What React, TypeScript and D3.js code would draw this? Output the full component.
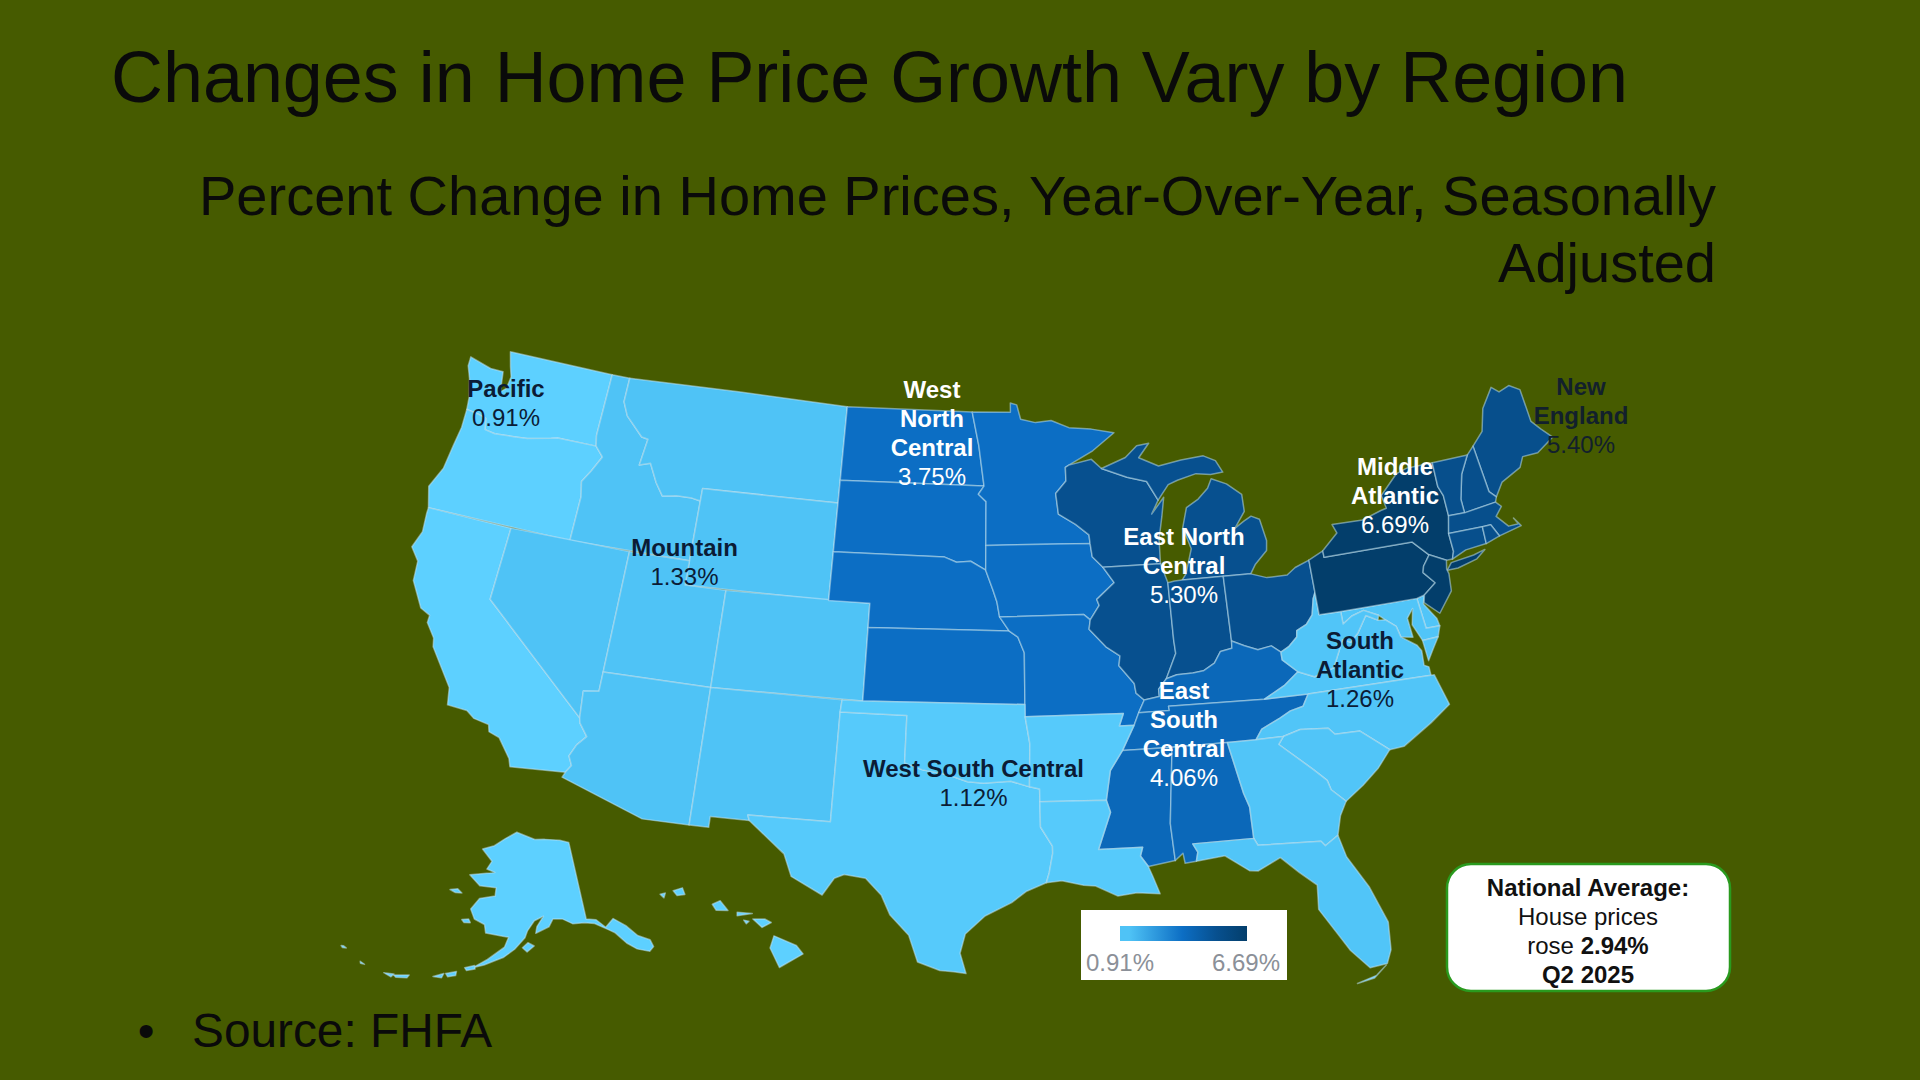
import React from "react";
import * as d3 from "d3";

type Ring = number[][];

const regionNames = ["Pacific", "Mountain", "West North Central", "East North Central", "East South Central", "West South Central", "South Atlantic", "Middle Atlantic", "New England"];
const regionValues = [0.91, 1.33, 3.75, 5.3, 4.06, 1.12, 1.26, 6.69, 5.4];
const regionLabelLines = [["Pacific"], ["Mountain"], ["West", "North", "Central"], ["East North", "Central"], ["East", "South", "Central"], ["West South Central"], ["South", "Atlantic"], ["Middle", "Atlantic"], ["New", "England"]];

const colorStops = [0.91, 1.33, 3.75, 5.3, 6.69];
const colorRange = ["#5dd0ff", "#4fc3f6", "#0c6ec4", "#07508f", "#033e6b"];

// state outlines, lon/lat
const WA: Ring = [[-124.73,48.38],[-123.5,48.13],[-122.8,48.13],[-122.6,47.3],[-122.35,47.5],[-122.3,48.0],[-122.5,48.4],[-122.76,49],[-117.03,49],[-117.04,46.42],[-116.92,45.99],[-118.98,46],[-119.3,45.93],[-120.5,45.7],[-121.2,45.65],[-122.2,45.58],[-122.75,45.65],[-122.9,46.1],[-123.4,46.2],[-124,46.26],[-124.1,46.8],[-124.4,47.5],[-124.7,48]];
const OR: Ring = [[-124,46.26],[-123.4,46.2],[-122.9,46.1],[-122.75,45.65],[-122.2,45.58],[-121.2,45.65],[-120.5,45.7],[-119.3,45.93],[-118.98,46],[-116.92,45.99],[-116.46,45.6],[-116.85,44.95],[-117.2,44.45],[-117.03,43.85],[-117.03,42],[-124.21,42],[-124.55,42.84],[-124.15,43.7],[-124.05,44.7],[-123.95,45.5]];
const CA: Ring = [[-124.21,42],[-120,42],[-120,39],[-114.63,35],[-114.57,34.8],[-114.14,34.3],[-114.5,33.9],[-114.72,33.4],[-114.52,33.03],[-114.72,32.72],[-117.12,32.53],[-117.25,32.85],[-117.9,33.6],[-118.4,33.75],[-118.5,34.03],[-119.2,34.15],[-119.6,34.4],[-120.5,34.45],[-120.65,35.15],[-121.9,36.6],[-122,36.95],[-122.5,37.5],[-122.5,37.8],[-123,38],[-123.75,39],[-123.85,39.8],[-124.35,40.3],[-124.1,41],[-124.2,41.75]];
const NV: Ring = [[-120,42],[-114.04,42],[-114.04,36.2],[-114.74,36.1],[-114.63,35],[-120,39]];
const ID: Ring = [[-117.03,49],[-116.05,49],[-116.05,48],[-115.7,47.45],[-114.7,46.7],[-114.35,46.65],[-114.5,45.55],[-113.95,45.7],[-113.45,44.95],[-113,44.45],[-112.3,44.55],[-111.5,44.55],[-111.05,44.48],[-111.05,42],[-117.03,42],[-117.03,43.85],[-117.2,44.45],[-116.85,44.95],[-116.46,45.6],[-116.92,45.99],[-117.04,46.42]];
const MT: Ring = [[-116.05,49],[-104.05,49],[-104.05,45],[-111.05,45],[-111.05,44.48],[-111.5,44.55],[-112.3,44.55],[-113,44.45],[-113.45,44.95],[-113.95,45.7],[-114.5,45.55],[-114.35,46.65],[-114.7,46.7],[-115.7,47.45],[-116.05,48]];
const WY: Ring = [[-111.05,45],[-104.05,45],[-104.05,41],[-111.05,41]];
const UT: Ring = [[-114.04,42],[-111.05,42],[-111.05,41],[-109.05,41],[-109.05,37],[-114.04,37]];
const CO: Ring = [[-109.05,41],[-102.05,41],[-102.05,37],[-109.05,37]];
const AZ: Ring = [[-114.04,37],[-109.05,37],[-109.05,31.33],[-111.07,31.33],[-114.81,32.5],[-114.72,32.72],[-114.52,33.03],[-114.72,33.4],[-114.5,33.9],[-114.14,34.3],[-114.57,34.8],[-114.63,35],[-114.74,36.1],[-114.04,36.2]];
const NM: Ring = [[-109.05,37],[-103,37],[-103.04,36.5],[-103.06,32],[-106.62,32],[-106.53,31.78],[-108.21,31.78],[-108.21,31.33],[-109.05,31.33]];
const TX: Ring = [[-106.62,32],[-103.06,32],[-103.04,36.5],[-100,36.5],[-100,34.56],[-99.2,34.3],[-98.1,34.13],[-97.2,33.85],[-96.5,33.8],[-95.3,33.88],[-94.48,33.64],[-94.04,33.55],[-94.04,33.02],[-94.04,31.99],[-93.55,31.2],[-93.55,30.9],[-93.72,30.1],[-93.85,29.7],[-94.7,29.35],[-95.3,28.9],[-96.4,28.35],[-97.2,27.6],[-97.4,26.8],[-97.15,25.96],[-97.65,26.03],[-98.2,26.07],[-99.1,26.4],[-99.5,27.5],[-100.3,28.3],[-100.7,29.1],[-101.4,29.77],[-102.3,29.88],[-102.7,29.7],[-103.15,28.98],[-104.5,29.65],[-104.9,30.55],[-106.53,31.78]];
const OK: Ring = [[-103,37],[-102.05,37],[-94.62,37],[-94.62,36.5],[-94.43,35.4],[-94.48,33.64],[-95.3,33.88],[-96.5,33.8],[-97.2,33.85],[-98.1,34.13],[-99.2,34.3],[-100,34.56],[-100,36.5],[-103.04,36.5]];
const KS: Ring = [[-102.05,40],[-95.31,40],[-94.9,39.75],[-94.61,39.11],[-94.62,37],[-102.05,37]];
const NE: Ring = [[-104.05,43],[-98.5,43],[-97.9,42.8],[-97.2,42.85],[-96.45,42.49],[-96.1,41.7],[-95.9,41.2],[-95.77,40.58],[-95.31,40],[-102.05,40],[-102.05,41],[-104.05,41]];
const SD: Ring = [[-104.05,45.94],[-96.56,45.94],[-96.85,45.6],[-96.45,45.3],[-96.45,43.5],[-96.45,42.49],[-97.2,42.85],[-97.9,42.8],[-98.5,43],[-104.05,43]];
const ND: Ring = [[-104.05,49],[-97.23,49],[-96.85,47.6],[-96.56,45.94],[-104.05,45.94]];
const MN: Ring = [[-97.23,49],[-95.15,49],[-95.15,49.38],[-94.8,49.3],[-94.6,48.7],[-93.8,48.55],[-92.95,48.62],[-92,48.3],[-90.8,48.2],[-89.6,48],[-90.8,47.3],[-92.1,46.75],[-92.29,46.66],[-92.29,46.1],[-92.85,45.6],[-92.75,44.75],[-91.9,44.3],[-91.25,43.85],[-91.22,43.5],[-96.45,43.5],[-96.45,45.3],[-96.85,45.6],[-96.56,45.94],[-96.85,47.6]];
const IA: Ring = [[-96.45,43.5],[-91.22,43.5],[-91.15,42.95],[-90.65,42.5],[-90.15,41.85],[-91.05,41.2],[-90.95,40.95],[-91.42,40.38],[-91.73,40.61],[-95.77,40.58],[-95.9,41.2],[-96.1,41.7],[-96.45,42.49]];
const MO: Ring = [[-95.77,40.58],[-91.73,40.61],[-91.42,40.38],[-91.5,40],[-90.75,39.25],[-90.12,38.85],[-90.2,38.45],[-89.55,37.7],[-89.5,37.3],[-89.15,37],[-89.45,36.5],[-89.7,36],[-90.37,36],[-90.15,36.5],[-94.62,36.5],[-94.62,37],[-94.61,39.11],[-94.9,39.75],[-95.31,40]];
const AR: Ring = [[-94.62,36.5],[-90.15,36.5],[-90.37,36],[-89.7,36],[-90.3,35],[-90.9,34.2],[-91.15,33],[-94.04,33.02],[-94.04,33.55],[-94.48,33.64],[-94.43,35.4]];
const LA: Ring = [[-94.04,33.02],[-91.15,33],[-91,32.5],[-91.6,31],[-89.73,31],[-89.85,30.65],[-89.55,30.2],[-89.4,29.8],[-89.15,29.05],[-90.1,29.15],[-90.9,29.05],[-91.8,29.5],[-92.3,29.55],[-93.2,29.77],[-93.85,29.7],[-93.72,30.1],[-93.55,30.9],[-93.55,31.2],[-94.04,31.99]];
const MS: Ring = [[-91.15,33],[-90.9,34.2],[-90.3,35],[-88.2,35],[-88.1,34.9],[-88.47,31.9],[-88.4,30.37],[-89.55,30.2],[-89.85,30.65],[-89.73,31],[-91.6,31],[-91,32.5]];
const AL: Ring = [[-88.2,35],[-85.61,35],[-85.18,32.87],[-85,32.3],[-85,31],[-87.6,31],[-87.42,30.65],[-87.52,30.28],[-88,30.23],[-88.05,30.65],[-88.4,30.37],[-88.47,31.9],[-88.1,34.9]];
const TN: Ring = [[-90.3,35],[-89.7,36],[-89.45,36.5],[-88.05,36.5],[-88.07,36.68],[-83.68,36.6],[-81.68,36.59],[-82,36.12],[-82.6,36],[-83.1,35.77],[-84,35.4],[-84.32,35],[-85.61,35],[-88.2,35]];
const KY: Ring = [[-89.15,37],[-88.45,37.1],[-88.45,37.4],[-88.05,37.8],[-87.55,37.93],[-86.8,37.95],[-86.3,38],[-85.75,38.27],[-85.4,38.72],[-84.85,38.8],[-84.82,39.1],[-84.25,38.85],[-83.65,38.63],[-83,38.72],[-82.6,38.42],[-82.6,38.1],[-81.97,37.54],[-82.7,37.05],[-83.68,36.6],[-88.07,36.68],[-88.05,36.5],[-89.45,36.5]];
const IL: Ring = [[-90.65,42.5],[-87.8,42.5],[-87.53,41.7],[-87.53,39.35],[-87.5,38.8],[-88.05,37.8],[-88.45,37.4],[-88.45,37.1],[-89.15,37],[-89.5,37.3],[-89.55,37.7],[-90.2,38.45],[-90.12,38.85],[-90.75,39.25],[-91.5,40],[-91.42,40.38],[-90.95,40.95],[-91.05,41.2],[-90.15,41.85]];
const IN: Ring = [[-87.53,41.7],[-87.2,41.75],[-86.82,41.76],[-84.8,41.76],[-84.82,39.1],[-84.85,38.8],[-85.4,38.72],[-85.75,38.27],[-86.3,38],[-86.8,37.95],[-87.55,37.93],[-88.05,37.8],[-87.5,38.8],[-87.53,39.35]];
const OH: Ring = [[-84.8,41.76],[-83.45,41.73],[-82.7,41.5],[-81.7,41.5],[-81.25,41.76],[-80.52,41.98],[-80.52,40.64],[-80.66,40.4],[-80.85,39.75],[-81.2,39.4],[-81.7,39.2],[-81.75,38.95],[-82.2,38.6],[-82.6,38.42],[-83,38.72],[-83.65,38.63],[-84.25,38.85],[-84.82,39.1]];
const MI_LOWER: Ring = [[-86.82,41.76],[-84.8,41.76],[-83.45,41.73],[-83.15,42.1],[-82.5,42.6],[-82.42,43],[-82.6,43.9],[-83,44.07],[-83.4,43.9],[-83.9,43.65],[-83.3,44.3],[-83.3,45],[-84,45.5],[-84.75,45.78],[-85,45.4],[-85.55,45],[-86.2,44.7],[-86.5,43.9],[-86.2,43],[-86.6,42]];
const MI_UPPER: Ring = [[-90.4,46.55],[-89.1,46.95],[-88.45,47.4],[-87.8,47.47],[-88.4,46.9],[-87.4,46.5],[-86.2,46.67],[-85,46.75],[-84.4,46.5],[-84.1,46],[-84.75,45.95],[-85.5,46.05],[-86.5,45.85],[-87,45.7],[-87.6,45.1],[-88.1,45.9],[-89.1,46.13]];
const WI: Ring = [[-92.29,46.66],[-92.1,46.75],[-90.9,46.95],[-90.4,46.55],[-89.1,46.13],[-88.1,45.9],[-87.6,45.1],[-88,44.55],[-87.3,45.2],[-87.5,44.4],[-87.75,43.5],[-87.8,42.5],[-90.65,42.5],[-91.15,42.95],[-91.22,43.5],[-91.25,43.85],[-91.9,44.3],[-92.75,44.75],[-92.85,45.6],[-92.29,46.1]];
const PA: Ring = [[-80.52,41.98],[-79.76,42.27],[-79.76,42],[-75.35,42],[-74.7,41.36],[-75.1,40.95],[-75.2,40.7],[-74.75,40.2],[-75.4,39.8],[-75.79,39.72],[-79.48,39.72],[-80.52,39.72],[-80.52,40.64]];
const NY: Ring = [[-79.76,42.27],[-78.9,42.9],[-79.05,43.27],[-77.5,43.25],[-76.5,43.5],[-76.2,43.55],[-76.3,44.1],[-75.3,44.85],[-74.7,45],[-73.35,45],[-73.4,44],[-73.25,43.6],[-73.27,42.75],[-73.5,42.05],[-73.5,41.3],[-73.65,41],[-73.95,41],[-74.7,41.36],[-75.35,42],[-79.76,42]];
const LONG_ISLAND: Ring = [[-74.03,40.6],[-73.75,40.87],[-72.6,40.98],[-72,41.1],[-72.5,40.8],[-73.5,40.6]];
const NJ: Ring = [[-74.7,41.36],[-73.95,41],[-74.05,40.65],[-74,40.45],[-74.1,39.75],[-74.9,38.95],[-75.5,39.5],[-75.4,39.8],[-74.75,40.2],[-75.2,40.7],[-75.1,40.95]];
const DE: Ring = [[-75.79,39.72],[-75.4,39.8],[-75.55,39.45],[-75.1,38.78],[-75.05,38.45],[-75.7,38.46]];
const MD: Ring = [[-79.48,39.72],[-75.79,39.72],[-75.7,38.46],[-75.05,38.45],[-75.25,38.03],[-76,38],[-76.3,38.7],[-76.1,39.35],[-76.45,39],[-76.4,38.2],[-76.95,38.3],[-77.05,38.75],[-77.5,39.1],[-77.75,39.32],[-78.4,39.62],[-79,39.47],[-79.48,39.2]];
const VA: Ring = [[-83.68,36.6],[-81.68,36.59],[-76,36.55],[-76,36.9],[-76.2,37],[-76.15,37.6],[-76.3,37.85],[-76.95,38.3],[-77.05,38.75],[-77.5,39.1],[-77.83,39.13],[-78.35,39.4],[-78.87,38.76],[-79.3,38.42],[-79.65,38.58],[-80.3,37.5],[-81.25,37.25],[-81.97,37.54],[-82.7,37.05]];
const VA_SHORE: Ring = [[-75.25,38.03],[-76,38],[-75.95,37.15],[-75.6,37.6]];
const WV: Ring = [[-80.52,40.64],[-80.52,39.72],[-79.48,39.72],[-79.48,39.2],[-79,39.47],[-78.4,39.62],[-77.75,39.32],[-77.83,39.13],[-78.35,39.4],[-78.87,38.76],[-79.3,38.42],[-79.65,38.58],[-80.3,37.5],[-81.25,37.25],[-81.97,37.54],[-82.6,38.1],[-82.6,38.42],[-82.2,38.6],[-81.75,38.95],[-81.7,39.2],[-81.2,39.4],[-80.85,39.75],[-80.66,40.4]];
const NC: Ring = [[-84.32,35],[-84,35.4],[-83.1,35.77],[-82.6,36],[-82,36.12],[-81.68,36.59],[-76,36.55],[-75.85,36.55],[-75.5,35.25],[-76.5,34.65],[-77.9,33.9],[-78.55,33.86],[-79.68,34.8],[-80.8,34.82],[-81.05,35.1],[-82.3,35.2],[-83.1,35]];
const SC: Ring = [[-83.1,35],[-82.3,35.2],[-81.05,35.1],[-80.8,34.82],[-79.68,34.8],[-78.55,33.86],[-79.2,33.2],[-80,32.6],[-80.85,32.05],[-81.4,32.6],[-81.5,33],[-82,33.5],[-83.35,34.7]];
const GA: Ring = [[-85.61,35],[-84.32,35],[-83.1,35],[-83.35,34.7],[-82,33.5],[-81.5,33],[-81.4,32.6],[-80.85,32.05],[-81.2,31.5],[-81.45,30.72],[-82.05,30.36],[-82.2,30.57],[-84.86,30.7],[-85,31],[-85,32.3],[-85.18,32.87]];
const FL: Ring = [[-87.6,31],[-85,31],[-84.86,30.7],[-82.2,30.57],[-82.05,30.36],[-81.45,30.72],[-81.25,29.8],[-80.55,28.45],[-80.05,26.9],[-80.15,25.75],[-80.4,25.2],[-81.1,25.13],[-81.75,25.95],[-82.15,26.7],[-82.75,27.8],[-82.65,28.8],[-83.3,29.4],[-84,30.1],[-85,29.65],[-85.35,29.7],[-86.3,30.4],[-87.52,30.28],[-87.42,30.65]];
const FL_KEYS: Ring = [[-80.45,25.15],[-80.9,24.78],[-81.7,24.55],[-81,24.68]];
const ME: Ring = [[-71.08,45.3],[-70.4,45.8],[-70,46.7],[-69.23,47.46],[-68.9,47.2],[-68.3,47.35],[-67.8,47.07],[-67.8,45.7],[-67.45,45.3],[-67,44.85],[-68,44.4],[-68.8,44.4],[-69.1,44],[-70.2,43.6],[-70.7,43.07],[-70.98,43.35]];
const NH: Ring = [[-71.08,45.3],[-70.98,43.35],[-70.7,43.07],[-70.82,42.87],[-72.46,42.73],[-72.45,43.3],[-72.05,44.3],[-71.5,45]];
const VT: Ring = [[-73.35,45],[-71.5,45],[-72.05,44.3],[-72.45,43.3],[-72.46,42.73],[-73.27,42.75],[-73.25,43.6],[-73.4,44]];
const MA: Ring = [[-73.5,42.05],[-73.27,42.75],[-72.46,42.73],[-70.82,42.87],[-70.6,42.65],[-71,42.3],[-70.55,41.8],[-70.05,41.8],[-70.2,42.07],[-69.95,41.7],[-71.12,41.5],[-71.38,42.02],[-71.8,42.02]];
const CT: Ring = [[-73.5,42.05],[-71.8,42.02],[-71.85,41.32],[-72.9,41.25],[-73.65,41],[-73.5,41.3]];
const RI: Ring = [[-71.8,42.02],[-71.38,42.02],[-71.12,41.5],[-71.85,41.32]];
const AK: Ring = [[-141,69.65],[-143.5,70.1],[-148,70.4],[-151,70.45],[-156.6,71.35],[-160,70.5],[-163,69.5],[-166.2,68.9],[-163,67.6],[-164,66.6],[-161.8,66.3],[-168,65.6],[-165,64.5],[-161,64.5],[-161,63.5],[-164.5,63],[-166,61.6],[-164.8,60.5],[-162.5,60],[-162,59],[-158.5,58.8],[-157.3,58.7],[-158,57.5],[-161,55.9],[-163.5,54.7],[-161.5,55.2],[-158,56.3],[-156,57.3],[-154,58.7],[-153.5,59.5],[-152,60.7],[-150,61.2],[-151.5,60],[-151.8,59.2],[-149,59.9],[-148,60.8],[-146,60.7],[-144,60],[-141.5,59.9],[-139.5,59.6],[-137,58.5],[-136,58],[-134.5,56.5],[-133,55.5],[-131,54.8],[-130,55.2],[-130.1,56.1],[-132,57],[-133.5,58.5],[-135.5,59.7],[-137.5,58.9],[-139,60],[-141,60.3]];
const AK_KODIAK: Ring = [[-154.5,57.5],[-153.4,58.1],[-152.2,57.7],[-153.6,57]];
const AK_NUNIVAK: Ring = [[-167.4,60.2],[-166,60.4],[-165.5,60],[-166.8,59.9]];
const AK_LAWRENCE: Ring = [[-171.7,63.4],[-170,63.7],[-168.8,63.3],[-170.3,63.2]];
const AK_UNIMAK: Ring = [[-164.9,54.6],[-163.2,55],[-163,54.6],[-164.5,54.3]];
const AK_UNALASKA: Ring = [[-168,53.55],[-166.2,54],[-166.2,53.5],[-167.5,53.2]];
const AK_UMNAK: Ring = [[-170,52.9],[-168.3,53.5],[-168.5,52.95]];
const AK_ATKA: Ring = [[-176.5,51.9],[-174,52.4],[-174.2,52],[-176,51.7]];
const AK_ADAK: Ring = [[-178.2,51.8],[-176.5,52],[-176.8,51.6]];
const AK_ATTU: Ring = [[173,52.9],[173.4,53],[174,52.9],[173.4,52.75]];
const AK_KISKA: Ring = [[177.3,52.1],[178.2,51.95],[177.5,51.9]];
const HI_BIG: Ring = [[-155.9,20.25],[-155.05,19.85],[-154.8,19.5],[-155.7,18.95],[-156.05,19.75]];
const HI_MAUI: Ring = [[-156.7,20.95],[-156.25,20.95],[-156,20.8],[-156.35,20.6]];
const HI_MOLOKAI: Ring = [[-157.3,21.22],[-156.72,21.17],[-157.3,21.08]];
const HI_LANAI: Ring = [[-157.05,20.9],[-156.85,20.85],[-156.95,20.75]];
const HI_OAHU: Ring = [[-158.25,21.55],[-157.95,21.7],[-157.65,21.3],[-158.1,21.3]];
const HI_KAUAI: Ring = [[-159.75,22.1],[-159.4,22.22],[-159.3,21.95],[-159.6,21.9]];
const HI_NIIHAU: Ring = [[-160.25,21.95],[-160.05,22],[-160.1,21.8]];

// rings per region, same order as regionNames
const pacificRings = [WA, OR, CA];
const alaskaRings = [AK, AK_KODIAK, AK_NUNIVAK, AK_LAWRENCE, AK_UNIMAK, AK_UNALASKA, AK_UMNAK, AK_ATKA, AK_ADAK, AK_ATTU, AK_KISKA];
const hawaiiRings = [HI_BIG, HI_MAUI, HI_MOLOKAI, HI_LANAI, HI_OAHU, HI_KAUAI, HI_NIIHAU];
const lower48ByRegion: Ring[][] = [
  pacificRings,
  [ID, MT, WY, NV, UT, CO, AZ, NM],
  [ND, SD, NE, KS, MN, IA, MO],
  [WI, MI_LOWER, MI_UPPER, IL, IN, OH],
  [KY, TN, MS, AL],
  [TX, OK, AR, LA],
  [DE, MD, VA, VA_SHORE, WV, NC, SC, GA, FL, FL_KEYS],
  [PA, NY, LONG_ISLAND, NJ],
  [ME, NH, VT, MA, CT, RI],
];

const color = d3.scaleLinear<string>().domain(colorStops).range(colorRange);

// the source map is flatter than plain Albers, so y gets squeezed around the centre
const squeezed = (proj: any, ty: number, k: number) => {
  const squeeze = d3.geoTransform({
    point(x: number, y: number) {
      (this as any).stream.point(x, ty + (y - ty) * k);
    },
  });
  return { stream: (s: any) => proj.stream(squeeze.stream(s)) };
};

const lower48 = squeezed(d3.geoAlbers().scale(1582).translate([982, 663]), 663, 0.88);
const alaska = squeezed(
  d3.geoConicEqualArea().rotate([154, 0]).center([0, 62]).parallels([55, 65]).scale(550).translate([525, 910]),
  910,
  0.87,
);
const hawaii = squeezed(
  d3.geoConicEqualArea().rotate([157, 0]).center([0, 20]).parallels([8, 18]).scale(1600).translate([745, 942]),
  942,
  0.875,
);

const ringPath = (ring: Ring, projection: any) => {
  const closed = [...ring, ring[0]];
  let feature: any = { type: "Polygon", coordinates: [closed] };
  if (d3.geoArea(feature) > 2 * Math.PI) {
    feature = { type: "Polygon", coordinates: [[...closed].reverse()] };
  }
  return d3.geoPath(projection)(feature) ?? "";
};

const labelAnchors = [
  [506, 388], [684.5, 547], [932, 389], [1184, 536], [1184, 690], [973.5, 768], [1360, 640], [1395, 466], [1581, 386],
];
const labelColors = ["#0b1c36", "#0b1c36", "#fff", "#fff", "#fff", "#0b1c36", "#0b1c36", "#fff", "#12202c"];

const FONT = "'Liberation Sans', Arial, sans-serif";
const LINE = 29;

export default function App() {
  const legendScale = d3.scaleLinear().domain([colorStops[0], colorStops[4]]).range([1120, 1247]);
  return (
    <svg width={1920} height={1080} style={{ position: "fixed", left: 0, top: 0 }} fontFamily={FONT}>
      <defs>
        <linearGradient id="legendGrad" x1="0" x2="1" y1="0" y2="0">
          {colorStops.map((v, i) => (
            <stop key={i} offset={(legendScale(v) - 1120) / 127} stopColor={i === 0 ? "#4fc3f6" : colorRange[i]} />
          ))}
        </linearGradient>
      </defs>
      <rect width={1920} height={1080} fill="#465b00" />

      <text x={111} y={102} fontSize={71.9} fill="#0a0a0a">Changes in Home Price Growth Vary by Region</text>
      <g fontSize={56} fill="#0a0a0a" textAnchor="end">
        <text x={1716} y={215}>Percent Change in Home Prices, Year-Over-Year, Seasonally</text>
        <text x={1716} y={282}>Adjusted</text>
      </g>
      <text x={146} y={1047} fontSize={47.8} fill="#0a0a0a" textAnchor="middle">•</text>
      <text x={192} y={1047} fontSize={47.8} fill="#0a0a0a">Source: FHFA</text>

      <g stroke="#c4e6f8" strokeOpacity={0.5} strokeWidth={1.5} strokeLinejoin="round">
        {lower48ByRegion.map((rings, r) =>
          rings.map((ring, i) => (
            <path key={`${regionNames[r]}-${i}`} d={ringPath(ring, lower48)} fill={color(regionValues[r])} />
          )),
        )}
        {alaskaRings.map((ring, i) => (
          <path key={`ak-${i}`} d={ringPath(ring, alaska)} fill={color(regionValues[0])} />
        ))}
        {hawaiiRings.map((ring, i) => (
          <path key={`hi-${i}`} d={ringPath(ring, hawaii)} fill={color(regionValues[0])} />
        ))}
      </g>

      <g fontSize={24} textAnchor="middle" dominantBaseline="central">
        {regionNames.map((name, r) => {
          const [cx, cy] = labelAnchors[r];
          const lines = regionLabelLines[r];
          return (
            <g key={name} fill={labelColors[r]}>
              {lines.map((l, i) => (
                <text key={l} x={cx} y={cy + i * LINE} fontWeight="bold">{l}</text>
              ))}
              <text x={cx} y={cy + lines.length * LINE}>{regionValues[r].toFixed(2)}%</text>
            </g>
          );
        })}
      </g>

      <rect x={1081} y={910} width={206} height={70} fill="#fff" />
      <rect x={1120} y={926} width={127} height={15} fill="url(#legendGrad)" />
      <text x={1086} y={971} fontSize={24} fill="#8b9098">0.91%</text>
      <text x={1280} y={971} fontSize={24} fill="#8b9098" textAnchor="end">6.69%</text>

      <rect x={1447} y={864} width={283} height={127} rx={24} fill="#fff" stroke="#2a9a1e" strokeWidth={2.5} />
      <g fontSize={24} textAnchor="middle" dominantBaseline="central" fill="#111">
        <text x={1588} y={887} fontWeight="bold">National Average:</text>
        <text x={1588} y={916}>House prices</text>
        <text x={1588} y={945}>rose <tspan fontWeight="bold">2.94%</tspan></text>
        <text x={1588} y={974} fontWeight="bold">Q2 2025</text>
      </g>
    </svg>
  );
}
